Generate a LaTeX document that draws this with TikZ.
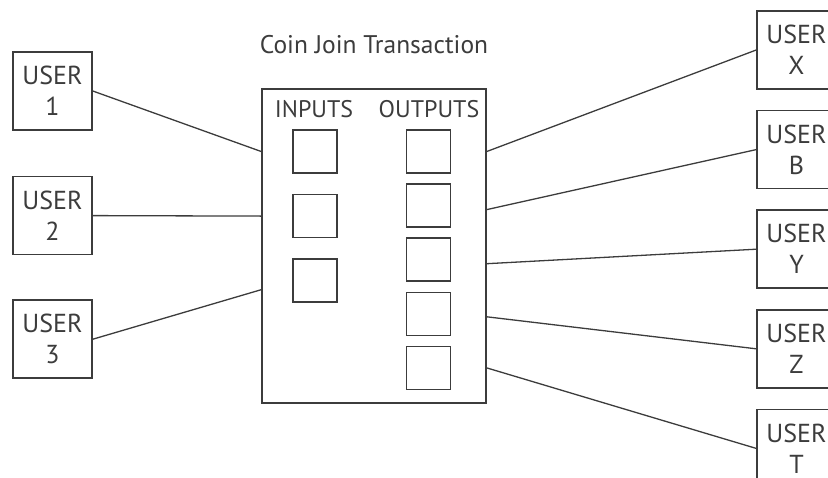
\documentclass[tikz,border=0pt]{standalone}
\usepackage{fontspec}
\setmainfont{PT Sans}
\usetikzlibrary{positioning}
\definecolor{ink}{RGB}{60,60,60}

\begin{document}
\begin{tikzpicture}[
    x=1pt, y=-1pt,
    user/.style={
        draw=ink,
        line width=1.6pt,
        align=center,
        text=ink,
        minimum width=79pt,
        minimum height=78pt,
        inner sep=0pt,
        font=\fontsize{26}{31}\selectfont
    },
    slot/.style={
        draw=ink,
        line width=1.6pt,
        minimum width=44pt,
        minimum height=43pt,
        inner sep=0pt
    },
    frame/.style={
        draw=ink,
        line width=1.6pt,
        minimum width=224pt,
        minimum height=314pt,
        inner sep=0pt
    },
    caption/.style={text=ink, inner sep=0pt, font=\fontsize{24}{28}\selectfont},
    link/.style={draw=ink, line width=1.3pt}
]
\useasboundingbox (0,0) rectangle (828,477);
\clip (0,0) rectangle (828,477);

% senders
\node[user] (user1) at (52.5,91) {USER\\1};
\node[user, below=45pt of user1] (user2) {USER\\2};
\node[user, below=44pt of user2] (user3) {USER\\3};

% transaction
\node[frame] (coinjoin) at (374,246) {};
\node[caption, font=\fontsize{25.5}{30}\selectfont] (title) at (374,45) {Coin Join Transaction};
\node[caption] (inlabel) at (314,109) {INPUTS};
\node[caption] (outlabel) at (429,109) {OUTPUTS};

\node[slot] (in1) at (315,151.5) {};
\node[slot, below=20pt of in1] (in2) {};
\node[slot, below=20pt of in2] (in3) {};

\node[slot] (out1) at (428.5,151.5) {};
\node[slot, below=9.5pt of out1] (out2) {};
\node[slot, below=9.5pt of out2] (out3) {};
\node[slot, below=9.5pt of out3] (out4) {};
\node[slot, below=9.5pt of out4] (out5) {};

% receivers
\node[user] (userx) at (796.5,50) {USER\\X};
\node[user, below=20pt of userx] (userb) {USER\\B};
\node[user, below=20pt of userb] (usery) {USER\\Y};
\node[user, below=20pt of usery] (userz) {USER\\Z};
\node[user, below=20pt of userz] (usert) {USER\\T};

\coordinate (in3port) at (coinjoin.west |- in3);

\draw[link] (user1.east) -- (coinjoin.west |- in1);
\draw[link] (user2.east) -- (coinjoin.west |- in2);
\draw[link] (user3.east) -- ([yshift=-9pt]in3port);

\draw[link] (coinjoin.east |- out1) -- (userx.west);
\draw[link] ([yshift=-4pt]coinjoin.east |- out2) -- (userb.west);
\draw[link] ([yshift=-4pt]coinjoin.east |- out3) -- (usery.west);
\draw[link] ([yshift=-3pt]coinjoin.east |- out4) -- (userz.west);
\draw[link] (coinjoin.east |- out5) -- (usert.west);
\end{tikzpicture}
\end{document}
